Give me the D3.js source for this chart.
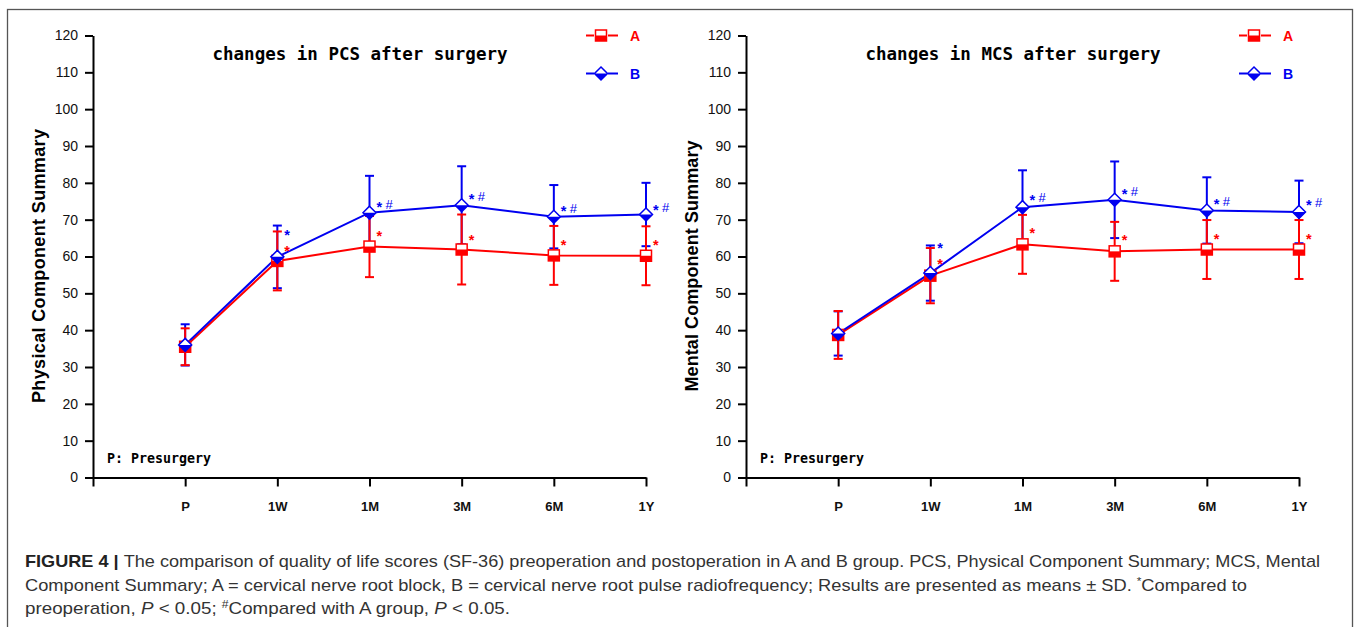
<!DOCTYPE html>
<html>
<head>
<meta charset="utf-8">
<title>Figure 4</title>
<script src="https://d3js.org/d3.v7.min.js"></script>
<style>
  body { margin: 0; background: #fff; }
  svg { display: block; }
</style>
</head>
<body>
<script>
// ---- data ----
const categories = ["P", "1W", "1M", "3M", "6M", "1Y"];
const yTicks = [0, 10, 20, 30, 40, 50, 60, 70, 80, 90, 100, 110, 120];

// PCS panel: means and SDs for group A (red) and B (blue)
const pcsA   = [35.5, 58.8, 62.7, 61.9, 60.3, 60.2];
const pcsASd = [5.0, 8.0, 8.3, 9.5, 8.0, 8.0];
const pcsB   = [36.0, 59.9, 71.9, 73.9, 70.8, 71.4];
const pcsBSd = [5.6, 8.5, 10.0, 10.6, 8.6, 8.6];
// significance marks and the level they sit at
const pcsMarkA  = ["", "*", "*", "*", "*", "*"];
const pcsMarkAY = [0, 62.4, 66.4, 65.2, 63.9, 63.9];
const pcsMarkB  = ["", "*", "*#", "*#", "*#", "*#"];
const pcsMarkBY = [0, 66.6, 74.3, 76.3, 73.2, 73.5];

// MCS panel
const mcsA   = [38.7, 54.8, 63.3, 61.4, 61.9, 61.9];
const mcsASd = [6.5, 7.5, 8.0, 8.0, 8.0, 8.0];
const mcsB   = [39.1, 55.5, 73.4, 75.4, 72.5, 72.1];
const mcsBSd = [6.0, 7.5, 10.0, 10.4, 9.0, 8.5];
const mcsMarkA  = ["", "*", "*", "*", "*", "*"];
const mcsMarkAY = [0, 58.9, 67.2, 65.3, 65.7, 65.7];
const mcsMarkB  = ["", "*", "*#", "*#", "*#", "*#"];
const mcsMarkBY = [0, 63.1, 76.1, 77.9, 75.2, 74.7];

const legendNames = ["A", "B"];

const RED = "#ff0000", BLUE = "#0000f0";

const svg = d3.select("body").append("svg")
  .attr("width", 1358).attr("height", 627);

svg.append("rect")
  .attr("x", 7.5).attr("y", 9.5)
  .attr("width", 1345).attr("height", 700)
  .attr("fill", "none").attr("stroke", "#555").attr("stroke-width", 1.3);

const panels = [
  { left: 93, title: "changes in PCS after surgery", ylab: "Physical Component Summary", ylabLen: 274,
    a: pcsA, aSd: pcsASd, b: pcsB, bSd: pcsBSd,
    markA: pcsMarkA, markAY: pcsMarkAY, markB: pcsMarkB, markBY: pcsMarkBY },
  { left: 746, title: "changes in MCS after surgery", ylab: "Mental Component Summary", ylabLen: 251,
    a: mcsA, aSd: mcsASd, b: mcsB, bSd: mcsBSd,
    markA: mcsMarkA, markAY: mcsMarkAY, markB: mcsMarkB, markBY: mcsMarkBY }
];

const y = d3.scaleLinear().domain([0, 120]).range([477.5, 35.5]);

function square(g, cx, cy, col) {
  g.append("rect").attr("x", cx - 5.5).attr("y", cy - 5.5).attr("width", 11).attr("height", 11)
    .attr("fill", "#fff").attr("stroke", col).attr("stroke-width", 1.5);
  g.append("rect").attr("x", cx - 5.5).attr("y", cy).attr("width", 11).attr("height", 5.5)
    .attr("fill", col);
}
function diamond(g, cx, cy, col) {
  const r = 6.5;
  g.append("path").attr("d", `M${cx},${cy - r}L${cx + r},${cy}L${cx},${cy + r}L${cx - r},${cy}Z`)
    .attr("fill", "#fff").attr("stroke", col).attr("stroke-width", 1.5);
  g.append("path").attr("d", `M${cx - r},${cy}L${cx + r},${cy}L${cx},${cy + r}Z`)
    .attr("fill", col);
}

function drawPanel(p) {
  const g = svg.append("g");
  const x = d3.scaleLinear().domain([-1, 5]).range([p.left, p.left + 553]);
  const idx = d3.range(categories.length);

  // axes
  const ya = g.append("g").attr("transform", `translate(${p.left},0)`)
    .call(d3.axisLeft(y).tickValues(yTicks).tickSize(8).tickSizeOuter(0).tickPadding(7));
  ya.selectAll("text").attr("font-family", "Liberation Sans, Arial, sans-serif")
    .attr("font-size", 14).attr("fill", "#111");

  const xa = g.append("g").attr("transform", `translate(0,${y(0)})`)
    .call(d3.axisBottom(x).tickValues([-1, 0, 1, 2, 3, 4, 5])
      .tickFormat(i => i < 0 ? "" : categories[i]).tickSize(9).tickSizeOuter(0).tickPadding(15));
  xa.selectAll("text").attr("font-family", "Liberation Sans, Arial, sans-serif")
    .attr("font-weight", "bold").attr("font-size", 13).attr("fill", "#111");

  g.selectAll(".domain").attr("stroke", "#000").attr("stroke-width", 2);
  g.selectAll(".tick line").attr("stroke", "#000").attr("stroke-width", 2);

  // title
  g.append("text").attr("x", p.left + 267).attr("y", 60).attr("text-anchor", "middle")
    .attr("font-family", "DejaVu Sans Mono, monospace").attr("font-weight", "bold")
    .attr("font-size", 17).attr("textLength", 295).attr("lengthAdjust", "spacingAndGlyphs")
    .text(p.title);

  // y label
  g.append("text").attr("transform", `translate(${p.left - 54},266) rotate(-90)`)
    .attr("text-anchor", "middle").attr("dominant-baseline", "central")
    .attr("font-family", "Liberation Sans, Arial, sans-serif").attr("font-weight", "bold")
    .attr("font-size", 18).attr("textLength", p.ylabLen).attr("lengthAdjust", "spacing")
    .text(p.ylab);

  // note
  g.append("text").attr("x", p.left + 14).attr("y", 463)
    .attr("font-family", "DejaVu Sans Mono, monospace").attr("font-weight", "bold")
    .attr("font-size", 13.5).attr("textLength", 104).attr("lengthAdjust", "spacingAndGlyphs")
    .text("P: Presurgery");

  // error bars
  function errBars(m, sd, col) {
    const eg = g.append("g").attr("stroke", col).attr("stroke-width", 2);
    idx.forEach(i => {
      const cx = x(i), y1 = y(m[i] + sd[i]), y0 = y(m[i] - sd[i]);
      eg.append("line").attr("x1", cx).attr("x2", cx).attr("y1", y1).attr("y2", y0);
      eg.append("line").attr("x1", cx - 4.5).attr("x2", cx + 4.5).attr("y1", y1).attr("y2", y1);
      eg.append("line").attr("x1", cx - 4.5).attr("x2", cx + 4.5).attr("y1", y0).attr("y2", y0);
    });
  }
  errBars(p.b, p.bSd, BLUE);
  errBars(p.a, p.aSd, RED);

  const line = d3.line().x((d, i) => x(i)).y(d => y(d));
  g.append("path").attr("d", line(p.a)).attr("fill", "none").attr("stroke", RED).attr("stroke-width", 2);
  g.append("path").attr("d", line(p.b)).attr("fill", "none").attr("stroke", BLUE).attr("stroke-width", 2);

  idx.forEach(i => square(g, x(i), y(p.a[i]), RED));
  idx.forEach(i => diamond(g, x(i), y(p.b[i]), BLUE));

  // significance marks
  function marks(lab, ly, col) {
    idx.forEach(i => {
      if (!lab[i]) return;
      const cy = y(ly[i]);
      g.append("text").attr("x", x(i) + 7).attr("y", cy + 8)
        .attr("font-family", "Liberation Sans, Arial, sans-serif").attr("font-weight", "bold")
        .attr("font-size", 14.5).attr("fill", col).text("*");
      if (lab[i].includes("#")) {
        g.append("text").attr("x", x(i) + 16).attr("y", cy + 5)
          .attr("font-family", "Liberation Sans, Arial, sans-serif")
          .attr("font-size", 13).attr("fill", col).text("#");
      }
    });
  }
  marks(p.markA, p.markAY, RED);
  marks(p.markB, p.markBY, BLUE);

  // legend
  const lx = x(5) - 45;
  [[RED, square, 35.5], [BLUE, diamond, 73.5]].forEach(([col, fn, ly], k) => {
    g.append("line").attr("x1", lx - 15).attr("x2", lx - 7).attr("y1", ly).attr("y2", ly)
      .attr("stroke", col).attr("stroke-width", 2);
    g.append("line").attr("x1", lx + 7).attr("x2", lx + 17).attr("y1", ly).attr("y2", ly)
      .attr("stroke", col).attr("stroke-width", 2);
    fn(g, lx, ly, col);
    g.append("text").attr("x", lx + 29).attr("y", ly + 5)
      .attr("font-family", "Liberation Sans, Arial, sans-serif")
      .attr("font-weight", "bold").attr("font-size", 14).attr("fill", col).text(legendNames[k]);
  });
}

panels.forEach(drawPanel);

// caption
const cap = svg.append("g")
  .attr("font-family", "Liberation Sans, Arial, sans-serif")
  .attr("font-size", 17).attr("fill", "#333");

const l1 = cap.append("text").attr("x", 25).attr("y", 567)
  .attr("textLength", 1295).attr("lengthAdjust", "spacingAndGlyphs");
l1.append("tspan").attr("font-weight", "bold").attr("fill", "#222").text("FIGURE 4 | ");
l1.append("tspan").text("The comparison of quality of life scores (SF-36) preoperation and postoperation in A and B group. PCS, Physical Component Summary; MCS, Mental");

const l2 = cap.append("text").attr("x", 25).attr("y", 591)
  .attr("textLength", 1222).attr("lengthAdjust", "spacingAndGlyphs");
l2.append("tspan").text("Component Summary; A = cervical nerve root block, B = cervical nerve root pulse radiofrequency; Results are presented as means \u00b1 SD. ");
l2.append("tspan").attr("font-size", 11).attr("dy", -6).text("*");
l2.append("tspan").attr("dy", 6).text("Compared to");

const l3 = cap.append("text").attr("x", 25).attr("y", 614)
  .attr("textLength", 485).attr("lengthAdjust", "spacingAndGlyphs");
l3.append("tspan").text("preoperation, ");
l3.append("tspan").attr("font-style", "italic").text("P");
l3.append("tspan").text(" < 0.05; ");
l3.append("tspan").attr("font-size", 11).attr("dy", -6).text("#");
l3.append("tspan").attr("dy", 6).text("Compared with A group, ");
l3.append("tspan").attr("font-style", "italic").text("P");
l3.append("tspan").text(" < 0.05.");
</script>
</body>
</html>
